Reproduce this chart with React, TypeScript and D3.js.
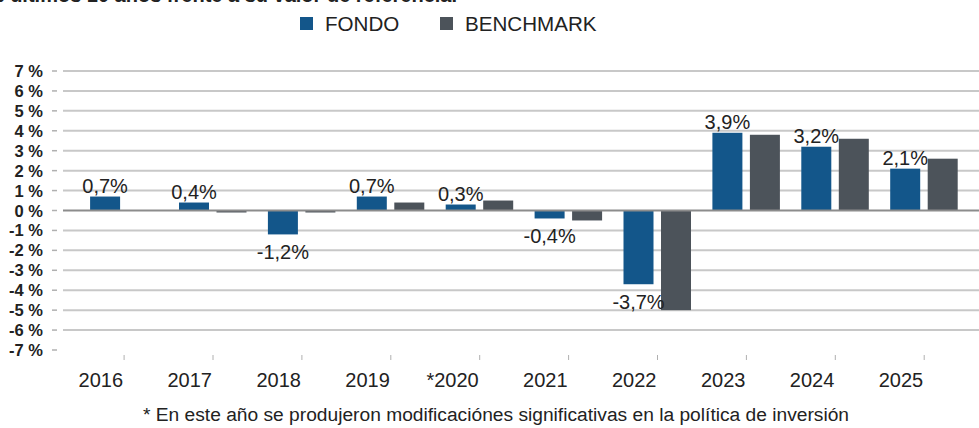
import React from "react";
import * as d3 from "d3";

const years = ["2016", "2017", "2018", "2019", "*2020", "2021", "2022", "2023", "2024", "2025"];
const fondo = [0.7, 0.4, -1.2, 0.7, 0.3, -0.4, -3.7, 3.9, 3.2, 2.1];
const benchmark: (number | null)[] = [null, -0.1, -0.1, 0.4, 0.5, -0.5, -5.0, 3.8, 3.6, 2.6];
const fondoLabels = ["0,7%", "0,4%", "-1,2%", "0,7%", "0,3%", "-0,4%", "-3,7%", "3,9%", "3,2%", "2,1%"];
const yTicks = [7, 6, 5, 4, 3, 2, 1, 0, -1, -2, -3, -4, -5, -6, -7];
const seriesNames = ["FONDO", "BENCHMARK"];
const colors = ["#13568a", "#4c535a"];

const W = 979;
const H = 428;
const FONT = "'Liberation Sans', Arial, sans-serif";

export default function App() {
  const x0 = d3.scaleBand<string>().domain(years).range([79.65, 968.65]).padding(0);
  const x1 = d3.scaleBand<string>().domain(seriesNames).range([0, 67.5]).paddingInner(0.2).paddingOuter(0);
  const y = d3.scaleLinear().domain([-7, 7]).range([350, 71]);
  const groupStart = (yr: string) => (x0(yr) as number) + x0.bandwidth() / 2 - 34;
  const center = (yr: string) => (x0(yr) as number) + x0.bandwidth() / 2;

  return (
    <svg width={W} height={H} style={{ position: "absolute", left: 0, top: 0, background: "#fff" }} fontFamily={FONT}>
      <text x={457} y={2} textAnchor="end" fontSize={20} fontWeight="bold" fill="#222">
        Rentabilidad de los últimos 10 años frente a su valor de referencia.
      </text>
      {/* legend */}
      {seriesNames.map((s, i) => {
        const lx = i === 0 ? 300 : 440;
        return (
          <g key={s}>
            <rect x={lx} y={17} width={13} height={13} fill={colors[i]} />
            <text x={lx + 25} y={30.5} fontSize={20.6} fill="#222">{s}</text>
          </g>
        );
      })}
      {/* grid */}
      {yTicks.map((t) => (
        <g key={t}>
          {t !== -7 && t !== 0 && (
            <line x1={63} x2={979} y1={y(t)} y2={y(t)} stroke="#c8c8c8" strokeWidth={2} />
          )}
          <line x1={52} x2={57} y1={y(t)} y2={y(t)} stroke="#b0b0b0" strokeWidth={1.5} />
          <text x={43} y={y(t) + 6} textAnchor="end" fontSize={16.5} fontWeight="bold" fill="#222">
            {`${t} %`}
          </text>
        </g>
      ))}
      {/* bars */}
      {years.map((yr, i) => {
        const g = groupStart(yr);
        const vals = [fondo[i], benchmark[i]];
        return (
          <g key={yr}>
            {vals.map((v, j) =>
              v === null ? null : (
                <rect
                  key={j}
                  x={g + (x1(seriesNames[j]) as number)}
                  y={y(Math.max(0, v))}
                  width={x1.bandwidth()}
                  height={Math.abs(y(v) - y(0))}
                  fill={colors[j]}
                />
              )
            )}
          </g>
        );
      })}
      <line x1={63} x2={979} y1={y(0)} y2={y(0)} stroke="#8c8c8c" strokeWidth={2} />
      {/* value labels */}
      {years.map((yr, i) => {
        const v = fondo[i];
        const cx = groupStart(yr) + (x1("FONDO") as number) + x1.bandwidth() / 2;
        const ty = v >= 0 ? y(v) - 4 : y(v) + 25;
        return (
          <text key={yr} x={cx} y={ty} textAnchor="middle" fontSize={20} fill="#222">
            {fondoLabels[i]}
          </text>
        );
      })}
      {/* x axis ticks & labels */}
      {years.map((yr) => (
        <g key={yr}>
          <line x1={center(yr)} x2={center(yr)} y1={355} y2={360} stroke="#b0b0b0" strokeWidth={1} />
          <text x={center(yr) - 1} y={386.5} textAnchor="end" fontSize={20} fill="#222">{yr}</text>
        </g>
      ))}
      <text x={496} y={421} textAnchor="middle" fontSize={19.2} fill="#222">
        * En este año se produjeron modificaciónes significativas en la política de inversión
      </text>
    </svg>
  );
}
